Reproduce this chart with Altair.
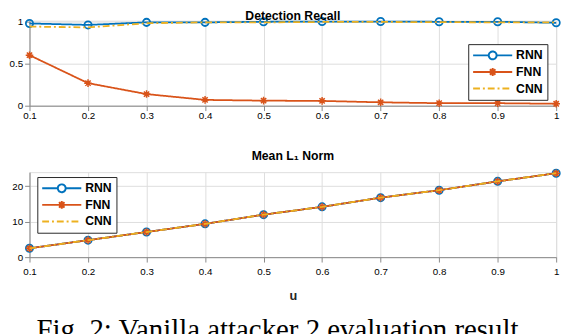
import altair as alt
import pandas as pd

# ---------------- data ----------------
u_values = [0.1, 0.2, 0.3, 0.4, 0.5, 0.6, 0.7, 0.8, 0.9, 1.0]
models = ["RNN", "FNN", "CNN"]

recall_rnn = [0.977, 0.96, 0.99, 0.99, 0.997, 1.0, 1.0, 0.997, 0.997, 0.985]
recall_fnn = [0.60, 0.268, 0.138, 0.069, 0.06, 0.057, 0.04, 0.03, 0.03, 0.023]
recall_cnn = [0.94, 0.93, 0.98, 0.99, 0.99, 0.995, 0.995, 0.993, 0.99, 0.99]

l1_rnn = [2.5, 4.8, 7.1, 9.4, 12.0, 14.2, 16.8, 18.9, 21.4, 23.7]
l1_fnn = [2.5, 4.8, 7.1, 9.4, 12.0, 14.2, 16.8, 18.9, 21.4, 23.7]
l1_cnn = [2.5, 4.8, 7.1, 9.4, 12.0, 14.2, 16.8, 18.9, 21.4, 23.7]

x_ticks = [0.1, 0.2, 0.3, 0.4, 0.5, 0.6, 0.7, 0.8, 0.9, 1.0]
recall_ticks = [0, 0.5, 1]
l1_ticks = [0, 10, 20]

title_top = "Detection Recall"
title_bottom = "Mean L\u2081 Norm"
x_title = "u"
caption = "Fig. 2: Vanilla attacker 2 evaluation result."

colors = ["#0072BD", "#D95319", "#EDB120"]
dashes = [[1, 0], [1, 0], [7, 3, 2, 3]]

# ---------------- tables ----------------
def long_table(series):
    rows = []
    for m, vals in zip(models, series):
        for x, v in zip(u_values, vals):
            rows.append({"u": x, "value": v, "model": m})
    return pd.DataFrame(rows)

df_recall = long_table([recall_rnn, recall_fnn, recall_cnn])
df_l1 = long_table([l1_rnn, l1_fnn, l1_cnn])

FONT = "Liberation Sans"
W = 539

ASTER = ("M0,-1L0,1M-1,0L1,0M-0.7,-0.7L0.7,0.7M-0.7,0.7L0.7,-0.7"
         "M0.45,0A0.45,0.45,0,1,1,-0.45,0A0.45,0.45,0,1,1,0.45,0")
LEG_RNN = ("M-1,0L-0.2,0M0.2,0L1,0"
           "M0.2,0A0.2,0.2,0,1,1,-0.2,0A0.2,0.2,0,1,1,0.2,0")
LEG_FNN = ("M-1,0L1,0M0,-0.2L0,0.2M-0.2,0L0.2,0"
           "M-0.14,-0.14L0.14,0.14M-0.14,0.14L0.14,-0.14"
           "M0.1,0A0.1,0.1,0,1,1,-0.1,0A0.1,0.1,0,1,1,0.1,0")
LEG_CNN = "M-1,0L1,0"


def make_legend(x, y):
    return alt.Legend(
        title=None, orient="none", legendX=x, legendY=y,
        symbolSize=1600, clipHeight=15, rowPadding=2,
        symbolStrokeWidth=2, labelFont=FONT, labelFontSize=12.5,
        labelFontWeight="bold", labelColor="#000000", labelOffset=3,
        fillColor="#ffffff", strokeColor="#262626", padding=4,
    )


def panel(df, ydomain, yticks, yfmt, lx, ly, show_xtitle, title, height,
          title_y, xlabpad, with_caption):
    xenc = alt.X(
        "u:Q",
        scale=alt.Scale(domain=[0.1, 1.0], nice=False, zero=False),
        axis=alt.Axis(values=x_ticks, format="~g", labelPadding=xlabpad,
                      labelFlush=False,
                      title=x_title if show_xtitle else None,
                      titleFont=FONT, titleFontSize=13, titleFontWeight="bold",
                      titleColor="#262626", titlePadding=13),
    )
    yenc = alt.Y(
        "value:Q",
        scale=alt.Scale(domain=ydomain, nice=False, zero=False),
        axis=alt.Axis(values=yticks, format=yfmt, title=None, minExtent=0),
    )
    base = alt.Chart(df)
    layers = []
    for m, c, d in zip(models, colors, dashes):
        sub = base.transform_filter(alt.datum.model == m)
        layers.append(sub.mark_line(color=c, strokeWidth=1.8, strokeDash=d)
                      .encode(x=xenc, y=yenc, order=alt.Order("u:Q")))
        if m == "RNN":
            layers.append(sub.mark_point(shape="circle", filled=False, color=c,
                                         size=55, strokeWidth=1.8, opacity=1)
                          .encode(x=xenc, y=yenc))
        elif m == "FNN":
            layers.append(sub.mark_point(shape=ASTER, filled=True, color=c,
                                         stroke=c, size=60, strokeWidth=1.5,
                                         opacity=1)
                          .encode(x=xenc, y=yenc))
    # legend-only layer (no rows drawn)
    leg = make_legend(lx, ly)
    legend_layer = base.transform_filter("false").mark_point(
        filled=False, size=1600, strokeWidth=2, opacity=1
    ).encode(
        x=xenc, y=yenc,
        color=alt.Color("model:N", scale=alt.Scale(domain=models, range=colors), legend=leg),
        shape=alt.Shape("model:N", scale=alt.Scale(domain=models,
                        range=[LEG_RNN, LEG_FNN, LEG_CNN]), legend=leg),
        strokeDash=alt.StrokeDash("model:N", scale=alt.Scale(domain=models, range=dashes),
                                  legend=leg),
        fill=alt.Fill("model:N", scale=alt.Scale(domain=models,
                      range=["transparent", "#D95319", "transparent"]), legend=leg),
    )
    layers.append(legend_layer)
    title_layer = alt.Chart(pd.DataFrame({"t": [title]})).mark_text(
        font=FONT, fontSize=12.5, fontWeight="bold", color="#000000",
        baseline="top", align="center",
    ).encode(text="t:N", x=alt.value(W / 2), y=alt.value(title_y))
    layers.append(title_layer)
    if with_caption:
        cap_layer = alt.Chart(pd.DataFrame({"c": [caption]})).mark_text(
            font="Liberation Serif", fontSize=29.5, fontWeight="normal",
            color="#000000", baseline="top", align="center",
        ).encode(text="c:N", x=alt.value(W / 2 - 12), y=alt.value(148))
        layers.append(cap_layer)
    return alt.layer(*layers).properties(width=W, height=height)


top = panel(df_recall, [0, 1.01], recall_ticks, "~g", 449, 24, False,
            title_top, 87, -10.5, 0, False)
bottom = panel(df_l1, [0, 24], l1_ticks, "d", 8, 5, True,
               title_bottom, 87, -22, 5, True)

chart = alt.vconcat(top, bottom, spacing=29).resolve_scale(
    color="independent", shape="independent", fill="independent",
    strokeDash="independent"
).properties(
    padding={"left": 0, "top": -2, "right": 0, "bottom": 0},
).configure_view(stroke="#262626", strokeWidth=1).configure_axis(
    domain=False, ticks=False, tickSize=0, grid=True, gridColor="#e3e3e3",
    gridWidth=1, labelFont=FONT, labelFontSize=12, labelFontWeight="bold",
    labelColor="#262626", labelPadding=1,
).configure(background="#ffffff")

chart.save("out.html", embed_options={"renderer": "svg", "actions": False})
